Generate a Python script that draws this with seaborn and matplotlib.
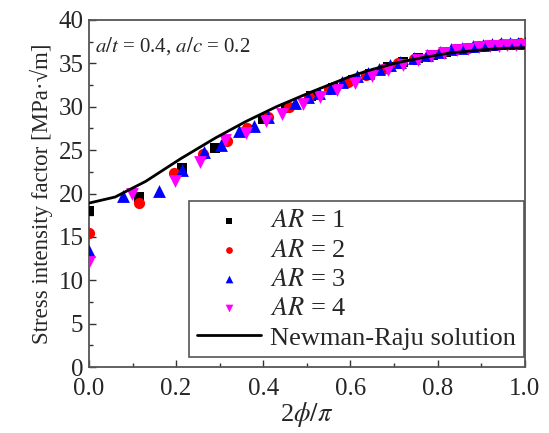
import numpy as np
import pandas as pd
import matplotlib
matplotlib.use('Agg')
import matplotlib.pyplot as plt
import seaborn as sns
from matplotlib.ticker import MultipleLocator

# FE results for each aspect ratio (x = 2*phi/pi, y = K in MPa*sqrt(m))
ar1_x = [0.0, 0.115, 0.213, 0.289, 0.40, 0.453, 0.51, 0.56, 0.605, 0.645, 0.685, 0.72,
         0.755, 0.79, 0.82, 0.85, 0.875, 0.90, 0.925, 0.95, 0.975, 1.0]
ar1_y = [18.0, 19.6, 22.9, 25.3, 28.6, 29.9, 31.2, 32.2, 33.1, 33.8, 34.6, 35.1,
         35.6, 36.0, 36.3, 36.6, 36.8, 36.9, 37.0, 37.1, 37.2, 37.2]

ar2_x = [0.0, 0.114, 0.195, 0.261, 0.316, 0.362, 0.41, 0.46, 0.505, 0.55, 0.595, 0.635,
         0.675, 0.71, 0.745, 0.78, 0.81, 0.84, 0.87, 0.895, 0.92, 0.945, 0.97, 0.99]
ar2_y = [15.4, 18.9, 22.4, 24.5, 26.1, 27.5, 28.8, 30.0, 31.1, 32.0, 32.9, 33.7,
         34.4, 35.0, 35.5, 35.9, 36.3, 36.6, 36.8, 37.0, 37.1, 37.2, 37.2, 37.3]

ar3_x = [0.0, 0.079, 0.16, 0.213, 0.264, 0.304, 0.345, 0.378, 0.411, 0.472, 0.502, 0.528,
         0.555, 0.58, 0.615, 0.64, 0.665, 0.69, 0.713, 0.745, 0.775, 0.805, 0.83, 0.855,
         0.88, 0.905, 0.925, 0.945, 0.965, 0.985, 1.0]
ar3_y = [13.4, 19.7, 20.3, 22.7, 24.8, 25.6, 27.2, 27.8, 28.8, 30.4, 31.1, 31.6,
         32.2, 32.8, 33.5, 33.9, 34.3, 34.8, 35.2, 35.6, 36.0, 36.3, 36.6, 36.8,
         37.0, 37.1, 37.2, 37.3, 37.3, 37.3, 37.3]

ar4_x = [0.0, 0.098, 0.197, 0.255, 0.313, 0.36, 0.406, 0.444, 0.49, 0.53, 0.57, 0.61,
         0.65, 0.685, 0.72, 0.755, 0.785, 0.815, 0.845, 0.87, 0.895, 0.92, 0.94, 0.96,
         0.98, 1.0]
ar4_y = [12.1, 20.0, 21.4, 23.6, 26.2, 27.0, 28.3, 29.2, 30.3, 31.1, 31.9, 32.7,
         33.5, 34.2, 34.8, 35.4, 35.8, 36.2, 36.5, 36.7, 36.9, 37.0, 37.0, 37.1,
         37.1, 37.1]

# Newman-Raju solution
nr_x = [0.0, 0.06, 0.13, 0.21, 0.29, 0.36, 0.43, 0.51, 0.6, 0.65, 0.71, 0.77,
        0.83, 0.89, 0.94, 1.0]
nr_y = [18.9, 19.6, 21.4, 24.0, 26.4, 28.3, 30.0, 31.7, 33.5, 34.3, 35.1, 35.7,
        36.2, 36.5, 36.7, 36.8]

series = [
    (ar1_x, ar1_y, r'$AR$ = 1', 's', 'black', 60),
    (ar2_x, ar2_y, r'$AR$ = 2', 'o', 'red', 65),
    (ar3_x, ar3_y, r'$AR$ = 3', '^', 'blue', 85),
    (ar4_x, ar4_y, r'$AR$ = 4', 'v', 'magenta', 85),
]

sns.set_style('ticks')
plt.rcParams['font.family'] = ['Liberation Serif', 'DejaVu Serif']
plt.rcParams['mathtext.fontset'] = 'stix'

fig, ax = plt.subplots(figsize=(5.49, 4.33), dpi=100)

for xs, ys, label, marker, color, size in series:
    df = pd.DataFrame({'x': xs, 'y': ys})
    sns.scatterplot(data=df, x='x', y='y', ax=ax, marker=marker, color=color,
                    s=size, linewidth=0, label=label, zorder=3)

nr = pd.DataFrame({'x': nr_x, 'y': nr_y})
sns.lineplot(data=nr, x='x', y='y', ax=ax, color='black', linewidth=2.0,
             label='Newman-Raju solution', zorder=4)

ax.set_xlim(0, 1.0)
ax.set_ylim(0, 40)
ax.xaxis.set_major_locator(MultipleLocator(0.2))
ax.xaxis.set_minor_locator(MultipleLocator(0.1))
ax.yaxis.set_major_locator(MultipleLocator(5))
ax.yaxis.set_minor_locator(MultipleLocator(2.5))
ax.tick_params(which='both', direction='in', labelsize=18, color='#333333')
ax.tick_params(which='major', length=5, width=1)
ax.tick_params(which='minor', length=3, width=1)
ax.tick_params(axis='x', pad=8)
ax.tick_params(axis='y', pad=4)

for sp in ax.spines.values():
    sp.set_color('#555555')
    sp.set_linewidth(1.3)

ax.set_xlabel(r'2$\phi/\pi$', fontsize=19, labelpad=0)
ax.set_ylabel('Stress intensity factor [MPa·√m]', fontsize=16.5, labelpad=4)

ax.text(0.015, 0.955, r'$a/t$ = 0.4, $a/c$ = 0.2', transform=ax.transAxes,
        fontsize=15, va='top', ha='left')

leg = ax.legend(loc='lower right', bbox_to_anchor=(0.997, 0.028), fontsize=19,
                fancybox=False, framealpha=1, edgecolor='#555555',
                markerscale=0.6, handlelength=2.4, handletextpad=0.35,
                labelspacing=0.22, borderpad=0.3, borderaxespad=0)
leg.get_frame().set_linewidth(1.2)

fig.subplots_adjust(left=0.162, right=0.956, top=0.954, bottom=0.152)
fig.savefig('out.png', dpi=100)
